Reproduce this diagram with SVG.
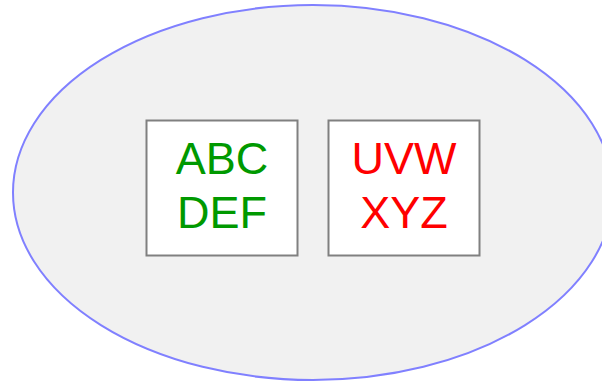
<svg xmlns="http://www.w3.org/2000/svg" width="602" height="382" viewBox="0 0 602 382">
<style>
.box{fill:#ffffff;stroke:#808080;stroke-width:2}
.t{font-family:"Liberation Sans",Arial,sans-serif;font-size:45px;text-anchor:middle}
</style>
<rect width="602" height="382" fill="#ffffff"/>
<g id="container">
<ellipse cx="313" cy="192.5" rx="300" ry="187.5" fill="#f1f1f1" stroke="#8080ff" stroke-width="2"/>
</g>
<g id="node1">
<rect class="box" x="146.5" y="120.5" width="151" height="135"/>
<text class="t" x="222" y="174" fill="#009900">ABC</text>
<text class="t" x="222" y="228" fill="#009900">DEF</text>
</g>
<g id="node2">
<rect class="box" x="328.5" y="120.5" width="151" height="135"/>
<text class="t" x="404" y="174" fill="#ff0000">UVW</text>
<text class="t" x="404" y="228" fill="#ff0000">XYZ</text>
</g>
<g id="connectors"></g>
</svg>
